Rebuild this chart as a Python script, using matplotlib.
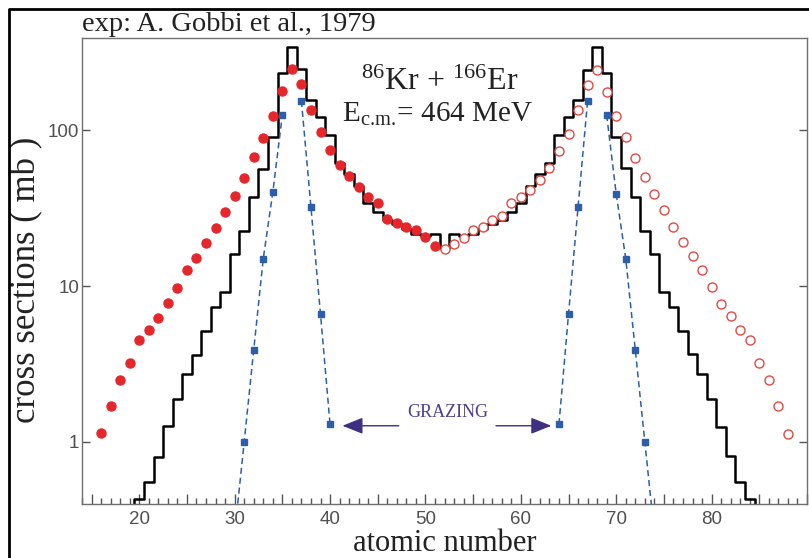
import numpy as np
import matplotlib
matplotlib.use("Agg")
import matplotlib.pyplot as plt
from matplotlib.ticker import MultipleLocator, FixedLocator, NullLocator, FuncFormatter
from matplotlib.lines import Line2D

plt.rcParams['font.family'] = 'Liberation Serif'
plt.rcParams['mathtext.fontset'] = 'custom'
plt.rcParams['mathtext.rm'] = 'Liberation Serif'
plt.rcParams['mathtext.it'] = 'Liberation Serif:italic'

# experiment (filled), mirrored experiment (open), model histogram, GRAZING
z_exp = list(range(16, 52))
sigma_exp = [1.14, 1.71, 2.5, 3.2, 4.5, 5.25, 6.2, 7.8, 9.7, 12.7, 15.2, 19,
             23.5, 30, 38, 49, 67, 89, 123, 178, 246, 197, 134, 98, 75, 60,
             51, 43, 37, 34, 27, 25.4, 24, 22.8, 20.6, 18.2]

z_mirror = list(range(52, 89))
sigma_mirror = [17.3, 18.7, 20.4, 23, 24, 26.7, 28, 34, 37, 41.6, 47.7, 57.5,
                73.6, 94, 134, 195, 243, 176, 123, 90, 66, 50, 38.8, 30.6,
                23.9, 19.1, 15.5, 12.7, 9.8, 7.7, 6.4, 5.2, 4.5, 3.19, 2.5,
                1.71, 1.13]

z_calc = list(range(19, 86))
sigma_calc = [0.2, 0.43, 0.55, 0.80, 1.27, 1.88, 2.72, 3.63, 5.17, 7.3, 9.1,
              16.1, 22.7, 37.3, 56.7, 90.6, 232, 343, 245, 156, 121, 93, 62,
              52, 44, 34, 30, 26.5, 25, 23.3, 21.5, 21, 21.5, 17.5, 21.5, 21,
              21.5, 23.3, 25, 26.5, 30, 34, 44, 52, 62, 93, 122, 156, 243,
              343, 232, 90.6, 56.8, 37.3, 22.7, 16.1, 9.1, 7.3, 5.17, 3.66,
              2.72, 1.88, 1.25, 0.81, 0.55, 0.43, 0.2]

z_graz_l = list(range(30, 41))
sigma_graz_l = [0.26, 1.0, 3.9, 15, 40, 125, np.nan, 154, 32, 6.6, 1.3]
z_graz_r = list(range(64, 75))
sigma_graz_r = [1.3, 6.6, 32, 154, np.nan, 125, 39, 15, 3.9, 1.0, 0.26]

y_ticks = [1, 10, 100]
y_ticklabels = ['1', '10', '100']


def main():
    fig = plt.figure(figsize=(8.09, 5.58), dpi=100)
    ax = fig.add_axes([0.1014, 0.0968, 0.8961, 0.8351])

    blue = '#2d5ea8'
    ax.plot(z_graz_l, sigma_graz_l, color=blue, lw=1.1, ls=(0, (4, 2.5)),
            marker='s', ms=4, mfc=blue, mec=blue, zorder=3)
    ax.plot(z_graz_r, sigma_graz_r, color=blue, lw=1.1, ls=(0, (4, 2.5)),
            marker='s', ms=4, mfc=blue, mec=blue, zorder=3)
    ax.step(z_calc, sigma_calc, where='mid', color='black', lw=1.8, zorder=2)
    ax.plot(z_exp, sigma_exp, ls='none', marker='o', ms=6.5,
            mfc='#e5262b', mec='#e5262b', zorder=4)
    ax.plot(z_mirror, sigma_mirror, ls='none', marker='o', ms=6.5,
            mfc='white', mec='#e04a45', mew=1.0, zorder=4)

    ax.set_yscale('log')
    ax.set_xlim(14, 90)
    ax.set_ylim(0.4, 390)

    ax.yaxis.set_major_locator(FixedLocator(y_ticks))
    ax.yaxis.set_minor_locator(NullLocator())
    ax.set_yticklabels(y_ticklabels)
    ax.xaxis.set_major_locator(MultipleLocator(5))
    ax.xaxis.set_minor_locator(MultipleLocator(1))
    ax.xaxis.set_major_formatter(
        FuncFormatter(lambda v, p: f'{int(v)}'
                      if int(v) % 10 == 0 and 20 <= v <= 80 else ''))

    ax.tick_params(axis='x', which='major', direction='in', length=7,
                   width=1, color='#555555', pad=5)
    ax.tick_params(axis='x', which='minor', direction='in', length=4,
                   width=1, color='#555555')
    ax.tick_params(axis='y', direction='in', length=6, width=1,
                   color='#555555', right=True, pad=2)
    for lab in ax.get_xticklabels() + ax.get_yticklabels():
        lab.set_fontfamily('Liberation Sans')
        lab.set_fontsize(13.5)
        lab.set_color('#505050')
    for sp in ax.spines.values():
        sp.set_color('#707070')
        sp.set_linewidth(1.0)

    ax.set_xlabel('atomic number', fontsize=22, color='#222222')
    ax.xaxis.label.set_va('baseline')
    ax.xaxis.set_label_coords(0.50, -0.101)
    ax.set_ylabel('cross sections ( mb )', fontsize=25, color='#222222')
    ax.yaxis.label.set_va('center')
    ax.yaxis.set_label_coords(-0.076, 0.48)

    ax.text(0.494, 0.888, r'$^{86}$Kr + $^{166}$Er', transform=ax.transAxes,
            ha='center', va='baseline', fontsize=23, color='#222222')
    ax.text(0.491, 0.820, r'E$_{\mathrm{c.\!m.\!}}$= 464 MeV',
            transform=ax.transAxes, ha='center', va='baseline',
            fontsize=21, color='#222222')

    purple = '#3e2f80'
    ax.text(52.3, 1.55, 'GRAZING', ha='center', va='center', fontsize=13,
            color='#4b3f8f')
    arrow = dict(arrowstyle='-|>,head_length=0.7,head_width=0.28',
                 color=purple, lw=1.0, mutation_scale=18,
                 shrinkA=0, shrinkB=0)
    ax.annotate('', xy=(41.3, 1.27), xytext=(47.2, 1.27), arrowprops=arrow)
    ax.annotate('', xy=(63.2, 1.27), xytext=(57.4, 1.27), arrowprops=arrow)

    fig.text(82 / 809, 1 - 31 / 558, 'exp: A. Gobbi et al., 1979',
             ha='left', va='baseline', fontsize=20.5, color='#222222')

    # outer frame (left and top edges)
    fig.add_artist(Line2D([8.5 / 809, 8.5 / 809, 1.0],
                          [0.0, 1 - 8.5 / 558, 1 - 8.5 / 558],
                          transform=fig.transFigure, color='black', lw=2.0))

    fig.savefig('out.png', dpi=100, facecolor='white')


if __name__ == "__main__":
    main()
